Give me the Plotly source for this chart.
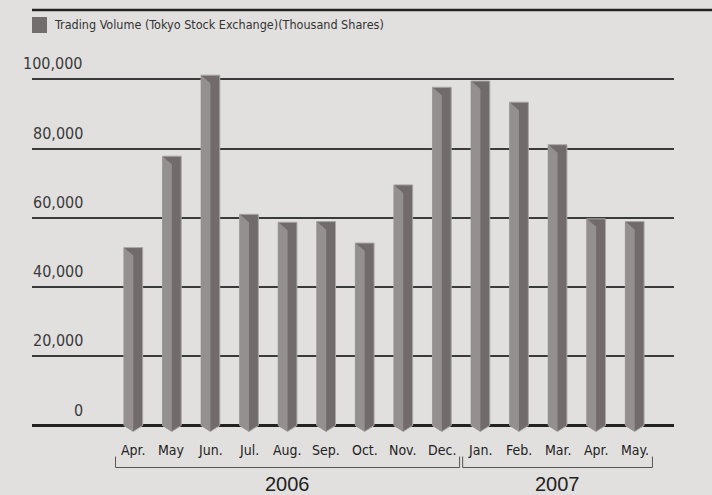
import plotly.graph_objects as go

# Data (thousand shares), Apr 2006 - May 2007
MONTHS = ["Apr.", "May", "Jun.", "Jul.", "Aug.", "Sep.", "Oct.", "Nov.", "Dec.",
          "Jan.", "Feb.", "Mar.", "Apr.", "May."]
VOLUME = [51400, 77800, 101200, 61000, 58700, 58900, 52700, 69500, 97700,
          99500, 93400, 81100, 59700, 58900]
YEARS = ["2006", "2007"]
YEAR_FIRST = [0, 9]
YEAR_LAST = [8, 13]
Y_TICKS = [0, 20000, 40000, 60000, 80000, 100000]
Y_TICK_TEXT = ["0", "20,000", "40,000", "60,000", "80,000", "100,000"]
LEGEND_TEXT = "Trading Volume (Tokyo Stock Exchange)(Thousand Shares)"

# Style
BG = "#e1e0df"
LIGHT = "#94908f"
DARK = "#716b6b"
EDGE = "#a9a6a5"
INK = "#222222"
NARROW = "Liberation Sans Narrow, DejaVu Sans Condensed, Arial Narrow, sans-serif"
WIDE = "Liberation Sans, Arial, sans-serif"

W, H = 712, 495
M_L, M_R, M_T, M_B = 32, 38, 40, 15
PLOT_H = H - M_T - M_B
Y_MIN, Y_MAX = -15742, 111352
UNIT_PER_PX = (Y_MAX - Y_MIN) / PLOT_H

HALF_W = 0.243                 # half bar width in category units
BEVEL = 8 * UNIT_PER_PX        # depth of the top bevel
TIP = 6 * UNIT_PER_PX          # depth of the pointed foot

dark_x, dark_y, light_x, light_y = [], [], [], []
for i, v in enumerate(VOLUME):
    x0, xm, x1 = i - HALF_W, i, i + HALF_W
    dark_x += [x0, x1, x1, xm, x0, x0, None]
    dark_y += [v, v, 0, -TIP, 0, v, None]
    light_x += [x0, xm, xm, x0, x0, None]
    light_y += [v, v - BEVEL, -TIP, 0, v, None]

fig = go.Figure()
fig.add_trace(go.Scatter(x=dark_x, y=dark_y, fill="toself", fillcolor=DARK,
                         mode="lines", line=dict(width=1, color=EDGE),
                         hoverinfo="skip", showlegend=False))
fig.add_trace(go.Scatter(x=light_x, y=light_y, fill="toself", fillcolor=LIGHT,
                         mode="lines", line=dict(width=0, color=LIGHT),
                         hoverinfo="skip", showlegend=False))
# hover carrier
fig.add_trace(go.Scatter(x=list(range(len(VOLUME))), y=VOLUME, mode="markers",
                         marker=dict(size=1, opacity=0), showlegend=False,
                         hovertemplate="%{y:,}<extra></extra>"))

plot_w = W - M_L - M_R
annotations = []
# y tick labels sit above their gridlines
for val, txt in zip(Y_TICKS, Y_TICK_TEXT):
    annotations.append(dict(x=53 / plot_w, xref="paper", xanchor="right",
                            y=val, yref="y", yanchor="bottom", yshift=4,
                            text=txt, showarrow=False,
                            font=dict(family=NARROW, size=16, color="#3a3a3a")))
# month labels
for i, m in enumerate(MONTHS):
    annotations.append(dict(x=i, xref="x", y=0, yref="y", yanchor="middle",
                            yshift=-24, text=m, showarrow=False,
                            font=dict(family=NARROW, size=14, color=INK)))

shapes = []
for yr, a, b in zip(YEARS, YEAR_FIRST, YEAR_LAST):
    xa, xb = a - 0.46, b + 0.46
    y_low = -42 * UNIT_PER_PX
    y_high = -31 * UNIT_PER_PX
    shapes.append(dict(type="path", xref="x", yref="y",
                       path=f"M {xa},{y_high} L {xa},{y_low} L {xb},{y_low} L {xb},{y_high}",
                       line=dict(color="#555555", width=1)))
    annotations.append(dict(x=(a + b) / 2, xref="x", y=0, yref="y",
                            yanchor="middle", yshift=-58, text=yr, showarrow=False,
                            font=dict(family=WIDE, size=20, color=INK)))

# top rule and legend
shapes.append(dict(type="line", xref="paper", yref="paper",
                   x0=0, x1=(W - M_L) / plot_w,
                   y0=(PLOT_H + M_T - 10) / PLOT_H, y1=(PLOT_H + M_T - 10) / PLOT_H,
                   line=dict(color=INK, width=2.5)))
shapes.append(dict(type="rect", xref="paper", yref="paper",
                   x0=0, x1=15 / plot_w,
                   y0=(PLOT_H + M_T - 33) / PLOT_H, y1=(PLOT_H + M_T - 17) / PLOT_H,
                   fillcolor="#736e6e", line=dict(width=0)))
annotations.append(dict(x=20 / plot_w, xref="paper", xanchor="left",
                        y=(PLOT_H + M_T - 25) / PLOT_H, yref="paper", yanchor="middle",
                        text=LEGEND_TEXT, showarrow=False,
                        font=dict(family=NARROW, size=12.5, color="#333333")))

fig.update_layout(
    width=W, height=H,
    margin=dict(l=M_L, r=M_R, t=M_T, b=M_B),
    paper_bgcolor=BG, plot_bgcolor=BG,
    xaxis=dict(range=[-2.626, 14.019], showgrid=False, zeroline=False,
               showticklabels=False, fixedrange=True),
    yaxis=dict(range=[Y_MIN, Y_MAX], tickvals=Y_TICKS, showticklabels=False,
               showgrid=True, gridcolor="#3a3a3a", gridwidth=1.5,
               zeroline=True, zerolinecolor=INK, zerolinewidth=2.5,
               fixedrange=True),
    shapes=shapes,
    annotations=annotations,
    showlegend=False,
    hovermode="closest",
)

# page body margin would otherwise offset the figure by 8px
fig.write_html("out.html", config={"displayModeBar": False},
               post_script="document.body.style.margin='0';")
